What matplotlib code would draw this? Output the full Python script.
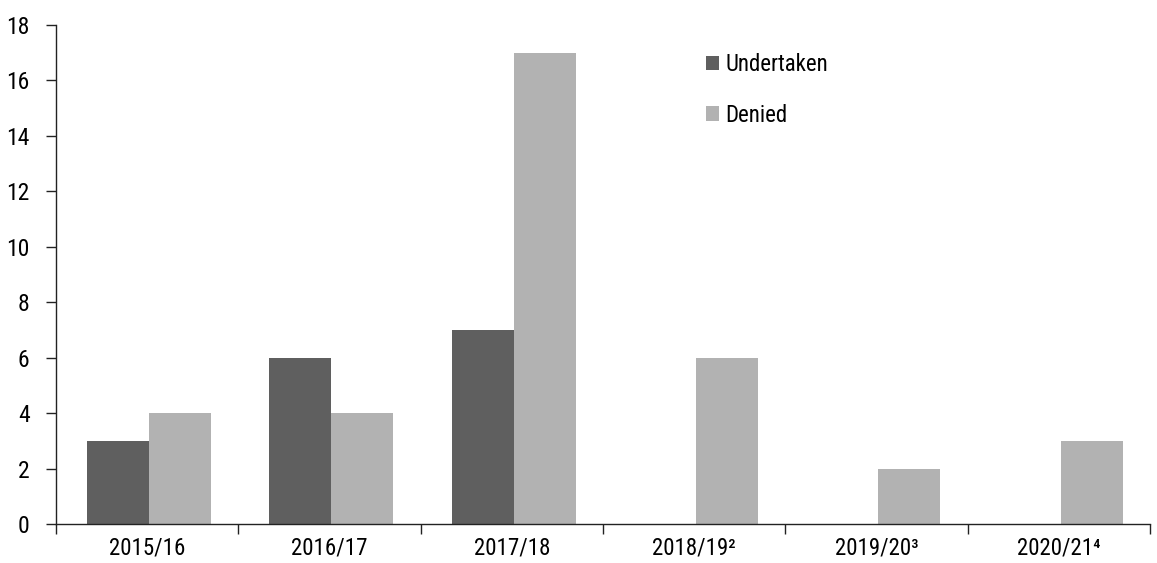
import matplotlib
matplotlib.use("Agg")
import matplotlib.pyplot as plt
import numpy as np
from matplotlib.font_manager import findfont, FontProperties

categories = ["2015/16", "2016/17", "2017/18", "2018/19\u00b2", "2019/20\u00b3", "2020/21\u2074"]
undertaken = [3, 6, 7, 0, 0, 0]
denied = [4, 4, 17, 6, 2, 3]

fam = "DejaVu Sans"
for cand in ["Liberation Sans Narrow", "Roboto Condensed", "Roboto"]:
    try:
        findfont(FontProperties(family=cand), fallback_to_default=False)
        fam = cand
        break
    except Exception:
        pass
plt.rcParams['font.family'] = [fam, 'Roboto', 'DejaVu Sans']

fig = plt.figure(figsize=(11.57, 5.63), dpi=100)
ax = fig.add_axes([0.0484, 0.0693, 0.9456, 0.8863])

x = np.arange(len(categories))
w = 0.34
ax.bar(x - w/2 + 0.01, undertaken, w, color="#5f5f5f", label="Undertaken")
ax.bar(x + w/2 + 0.01, denied, w, color="#b2b2b2", label="Denied")

ax.set_xlim(-0.5, len(categories) - 0.5)
ax.set_ylim(0, 18)
ax.set_yticks(range(0, 19, 2))
ax.set_xticks(x)
ax.set_xticklabels(categories, fontsize=16.5)
ax.set_xticks(np.arange(-0.5, len(categories), 1.0), minor=True)
ax.tick_params(axis='x', which='major', length=0, pad=9)
ax.tick_params(axis='x', which='minor', length=7, direction='out', width=1, color='#222222')
ax.tick_params(axis='y', length=7, direction='out', labelsize=17, width=1, color='#222222', pad=12)
for s in ['top', 'right']:
    ax.spines[s].set_visible(False)
for s in ['left', 'bottom']:
    ax.spines[s].set_linewidth(1)
    ax.spines[s].set_color('#222222')

ax.legend(loc='upper left', bbox_to_anchor=(0.575, 0.985), frameon=False, fontsize=16.5,
          handlelength=0.6, handleheight=0.6, handletextpad=0.25, labelspacing=1.2)

fig.savefig("out.png", dpi=100)
